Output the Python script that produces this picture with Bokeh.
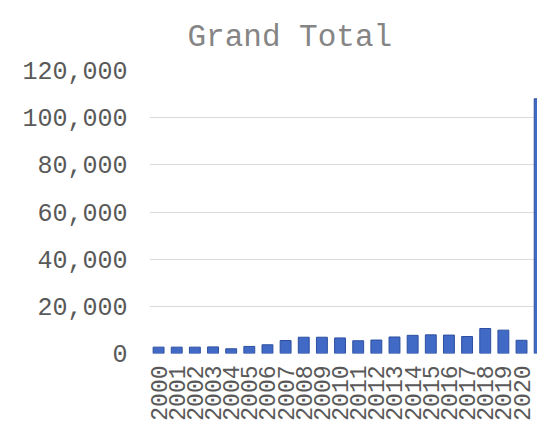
import math
from bokeh.plotting import figure
from bokeh.models import Range1d, FixedTicker, NumeralTickFormatter, Title
from bokeh.embed import file_html
from bokeh.resources import INLINE

years = [2000, 2001, 2002, 2003, 2004, 2005, 2006, 2007, 2008, 2009, 2010,
         2011, 2012, 2013, 2014, 2015, 2016, 2017, 2018, 2019, 2020, 2021]
totals = [2700, 2700, 2700, 2800, 2000, 3000, 3700, 5500, 6900, 6900, 6600,
          5400, 5700, 7000, 7700, 7900, 7800, 7200, 10600, 9900, 5600, 108000]
y_ticks = [0, 20000, 40000, 60000, 80000, 100000, 120000]
title_text = "Grand Total"

FONT = "Liberation Mono"

p = figure(width=537, height=442, output_backend="svg", toolbar_location=None,
           x_range=Range1d(1999.5, 2020.88), y_range=Range1d(0, 120000),
           min_border_left=149, min_border_right=0, min_border_top=70,
           min_border_bottom=89)

p.title = Title(text=title_text, align="left", offset=38, standoff=28,
                vertical_align="top", text_line_height=0.6,
                text_font=FONT, text_font_size="31px", text_font_style="normal",
                text_color="#858585")

p.vbar(x=years, top=totals, width=0.6, fill_color="#4169c6", line_color="#2c4f9e")

p.outline_line_color = None
p.xgrid.grid_line_color = None
p.ygrid.grid_line_color = "#d9d9d9"
p.ygrid.grid_line_width = 1

p.yaxis.ticker = FixedTicker(ticks=y_ticks)
p.yaxis.formatter = NumeralTickFormatter(format="0,0")
p.xaxis.ticker = FixedTicker(ticks=years)
p.xaxis.major_label_orientation = math.pi / 2

for ax in (p.xaxis, p.yaxis):
    ax.axis_line_color = None
    ax.major_tick_line_color = None
    ax.minor_tick_line_color = None
    ax.major_tick_out = 0
    ax.major_label_text_font = FONT
    ax.major_label_text_color = "#595959"

p.yaxis.major_label_text_font_size = "25px"
p.yaxis.major_label_standoff = 22
p.xaxis.major_label_text_font_size = "23px"
p.xaxis.major_label_standoff = 12

open("out.html", "w").write(file_html(p, INLINE))
